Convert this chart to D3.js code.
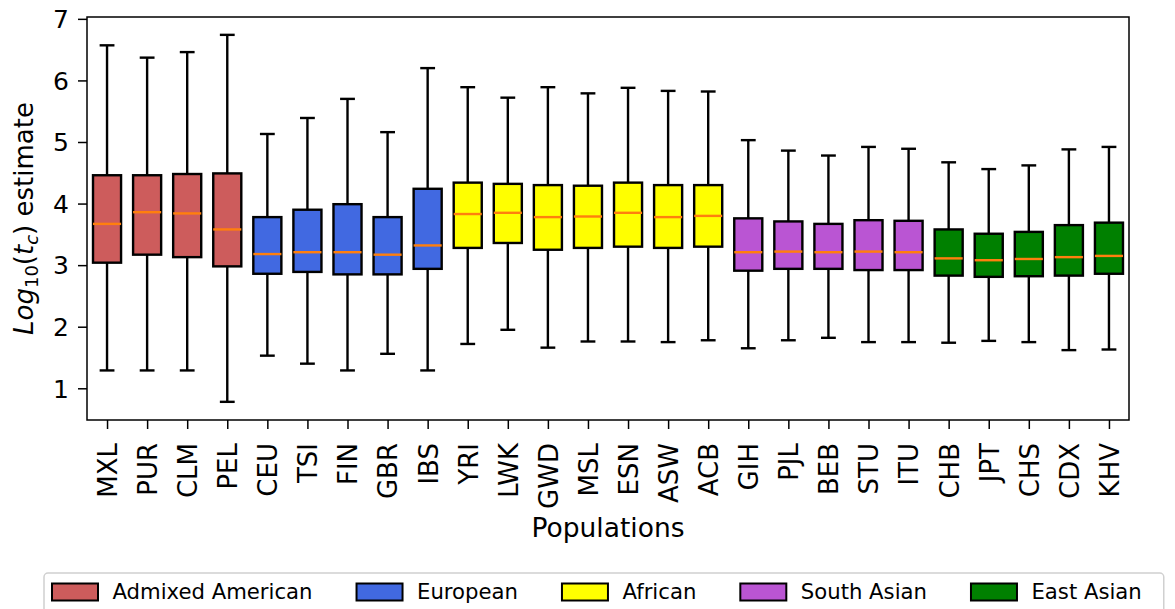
<!DOCTYPE html>
<html lang="en">
<head>
<meta charset="UTF-8">
<title>Log10(tc) by population</title>
<script src="https://cdn.jsdelivr.net/npm/d3@7"></script>
<style>
    body { margin: 0; background: #fff; }
    svg text { font-family: "DejaVu Sans", sans-serif; fill: #000; }
</style>
</head>
<body>
<svg id="chart" width="1175" height="609"></svg>
<script>
// populations in plotting order, with their super-population group
var populations = ['MXL', 'PUR', 'CLM', 'PEL', 'CEU', 'TSI', 'FIN', 'GBR', 'IBS',
    'YRI', 'LWK', 'GWD', 'MSL', 'ESN', 'ASW', 'ACB',
    'GIH', 'PJL', 'BEB', 'STU', 'ITU', 'CHB', 'JPT', 'CHS', 'CDX', 'KHV']
var groupOf = ['AMR', 'AMR', 'AMR', 'AMR', 'EUR', 'EUR', 'EUR', 'EUR', 'EUR',
    'AFR', 'AFR', 'AFR', 'AFR', 'AFR', 'AFR', 'AFR',
    'SAS', 'SAS', 'SAS', 'SAS', 'SAS', 'EAS', 'EAS', 'EAS', 'EAS', 'EAS']

// box statistics
var whiskerLow = [1.29, 1.29, 1.29, 0.78, 1.53, 1.40, 1.29, 1.56, 1.29,
    1.72, 1.95, 1.66, 1.76, 1.76, 1.75, 1.78,
    1.65, 1.78, 1.82, 1.75, 1.75, 1.74, 1.77, 1.75, 1.62, 1.63]
var q1 = [3.04, 3.17, 3.13, 2.98, 2.86, 2.89, 2.85, 2.85, 2.94,
    3.28, 3.36, 3.25, 3.28, 3.30, 3.28, 3.30,
    2.91, 2.94, 2.94, 2.92, 2.92, 2.83, 2.81, 2.82, 2.83, 2.86]
var median = [3.67, 3.86, 3.84, 3.58, 3.18, 3.21, 3.21, 3.17, 3.32,
    3.83, 3.85, 3.78, 3.79, 3.85, 3.78, 3.80,
    3.21, 3.22, 3.21, 3.22, 3.21, 3.11, 3.08, 3.10, 3.13, 3.15]
var q3 = [4.46, 4.46, 4.48, 4.49, 3.78, 3.90, 3.99, 3.78, 4.24,
    4.34, 4.32, 4.30, 4.29, 4.34, 4.30, 4.30,
    3.76, 3.71, 3.67, 3.73, 3.72, 3.58, 3.51, 3.54, 3.65, 3.69]
var whiskerHigh = [6.57, 6.37, 6.46, 6.74, 5.13, 5.39, 5.70, 5.16, 6.20,
    5.89, 5.72, 5.89, 5.79, 5.88, 5.83, 5.82,
    5.03, 4.86, 4.78, 4.92, 4.89, 4.67, 4.56, 4.62, 4.88, 4.92]

var groupKeys = ['AMR', 'EUR', 'AFR', 'SAS', 'EAS']
var groupNames = ['Admixed American', 'European', 'African', 'South Asian', 'East Asian']
var groupColors = ['#cd5c5c', '#4169e1', '#ffff00', '#ba55d3', '#008000']
var yTicks = [1, 2, 3, 4, 5, 6, 7]

var svg = d3.select('#chart')
var plotL = 87, plotR = 1129, plotT = 17, plotB = 420

var x = d3.scaleLinear().domain([0.5, populations.length + 0.5]).range([plotL, plotR])
var y = d3.scaleLinear().domain([0.485, 7.03]).range([plotB, plotT])
var color = d3.scaleOrdinal().domain(groupKeys).range(groupColors)

var boxW = 0.7, capW = 0.37, lw = 2.4

var rows = populations.map(function (p, i) {
    return {name: p, pos: i + 1, group: groupOf[i], lo: whiskerLow[i], q1: q1[i],
        med: median[i], q3: q3[i], hi: whiskerHigh[i]}
})

var boxes = svg.append('g').selectAll('g').data(rows).join('g')

// whiskers
boxes.append('line')
    .attr('x1', function (d) { return x(d.pos) }).attr('x2', function (d) { return x(d.pos) })
    .attr('y1', function (d) { return y(d.q3) }).attr('y2', function (d) { return y(d.hi) })
    .attr('stroke', '#000').attr('stroke-width', lw)
boxes.append('line')
    .attr('x1', function (d) { return x(d.pos) }).attr('x2', function (d) { return x(d.pos) })
    .attr('y1', function (d) { return y(d.q1) }).attr('y2', function (d) { return y(d.lo) })
    .attr('stroke', '#000').attr('stroke-width', lw)
// caps
;['hi', 'lo'].forEach(function (k) {
    boxes.append('line')
        .attr('x1', function (d) { return x(d.pos - capW / 2) })
        .attr('x2', function (d) { return x(d.pos + capW / 2) })
        .attr('y1', function (d) { return y(d[k]) }).attr('y2', function (d) { return y(d[k]) })
        .attr('stroke', '#000').attr('stroke-width', lw)
})
// boxes
boxes.append('rect')
    .attr('x', function (d) { return x(d.pos - boxW / 2) })
    .attr('width', x(1 + boxW) - x(1))
    .attr('y', function (d) { return y(d.q3) })
    .attr('height', function (d) { return y(d.q1) - y(d.q3) })
    .attr('fill', function (d) { return color(d.group) })
    .attr('stroke', '#000').attr('stroke-width', lw)
// medians
boxes.append('line')
    .attr('x1', function (d) { return x(d.pos - boxW / 2) })
    .attr('x2', function (d) { return x(d.pos + boxW / 2) })
    .attr('y1', function (d) { return y(d.med) }).attr('y2', function (d) { return y(d.med) })
    .attr('stroke', '#ff7f0e').attr('stroke-width', lw)

// frame
svg.append('rect').attr('x', plotL).attr('y', plotT)
    .attr('width', plotR - plotL).attr('height', plotB - plotT)
    .attr('fill', 'none').attr('stroke', '#000').attr('stroke-width', 1.5)

// y axis
var yAxis = svg.append('g').attr('transform', 'translate(' + plotL + ',0)')
    .call(d3.axisLeft(y).tickValues(yTicks).tickSize(9).tickPadding(9).tickFormat(d3.format('d')))
yAxis.select('.domain').remove()
yAxis.selectAll('line').attr('stroke-width', 1.5)
yAxis.selectAll('text').style('font-size', '25px').attr('dy', '0.35em')

// x axis, rotated labels
var xAxis = svg.append('g').attr('transform', 'translate(0,' + plotB + ')')
    .call(d3.axisBottom(x).tickValues(d3.range(1, populations.length + 1)).tickSize(9).tickPadding(0)
        .tickFormat(function (d) { return populations[d - 1] }))
xAxis.select('.domain').remove()
xAxis.selectAll('line').attr('stroke-width', 1.5)
xAxis.selectAll('text')
    .style('font-size', '26px')
    .attr('text-anchor', 'end')
    .attr('transform', 'translate(0,23) rotate(-90)')
    .attr('x', 0).attr('y', 0).attr('dy', '0.36em')

// axis titles
svg.append('text').attr('x', (plotL + plotR) / 2).attr('y', 537)
    .attr('text-anchor', 'middle').style('font-size', '26.5px').text('Populations')

var yl = svg.append('text').attr('transform', 'translate(33,' + (plotT + plotB) / 2 + ') rotate(-90)')
    .attr('text-anchor', 'middle').style('font-size', '26px')
yl.append('tspan').style('font-style', 'italic').text('Log')
yl.append('tspan').attr('dy', 5).style('font-size', '18px').text('10')
yl.append('tspan').attr('dy', -5).text('(')
yl.append('tspan').style('font-style', 'italic').text('t')
yl.append('tspan').attr('dy', 5).style('font-size', '18px').style('font-style', 'italic').text('c')
yl.append('tspan').attr('dy', -5).text(') estimate')

// legend
var legend = svg.append('g')
var lx = 52, ly = 592, handleW = 46, handleH = 17, fs = 21.2
var frame = legend.append('rect').attr('y', 573).attr('height', 45).attr('rx', 4)
    .attr('fill', '#fff').attr('stroke', '#d0d0d0').attr('stroke-width', 1.5)
groupNames.forEach(function (name, i) {
    legend.append('rect').attr('x', lx).attr('y', ly - handleH / 2)
        .attr('width', handleW).attr('height', handleH)
        .attr('fill', groupColors[i]).attr('stroke', '#000').attr('stroke-width', 2)
    var t = legend.append('text').attr('x', lx + handleW + 14.5).attr('y', ly).attr('dy', '0.35em')
        .style('font-size', fs + 'px').text(name)
    lx += handleW + 14.5 + t.node().getComputedTextLength() + 44
})
frame.attr('x', 44).attr('width', lx - 44 + 22 - 44)
</script>
</body>
</html>
